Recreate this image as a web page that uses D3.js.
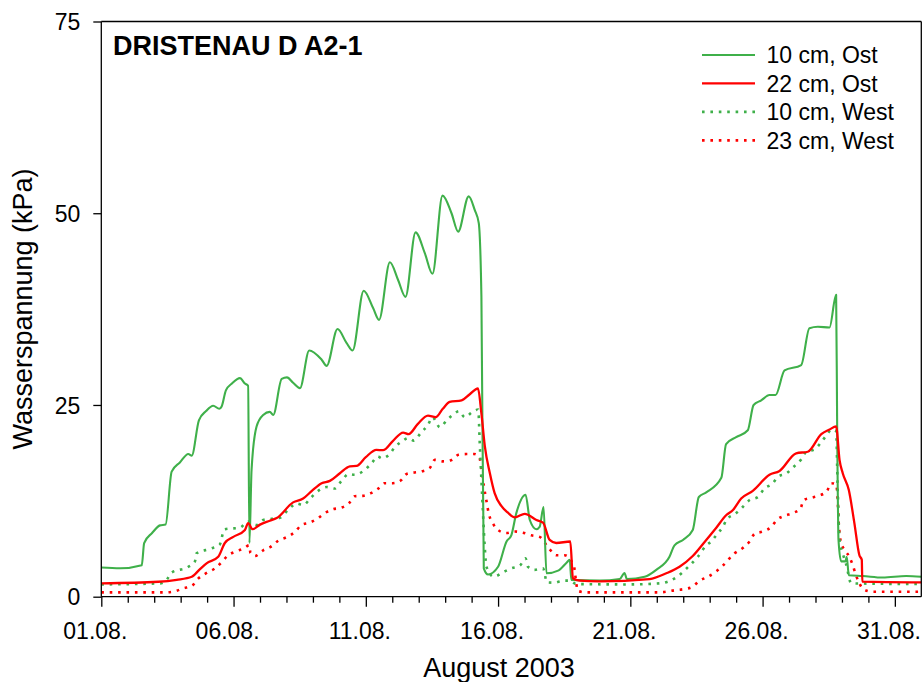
<!DOCTYPE html>
<html><head><meta charset="utf-8">
<script src="https://cdn.jsdelivr.net/npm/d3@7"></script>
<style>
html,body{margin:0;padding:0;background:#fff;}
svg{display:block;font-family:"Liberation Sans",Arial,sans-serif;}
</style></head>
<body>
<svg id="chart" width="922" height="682"></svg>
<script>
// ---- data (day of August 2003, kPa) ----
const chartTitle = "DRISTENAU D A2-1";
const xAxisTitle = "August 2003";
const yAxisTitle = "Wasserspannung (kPa)";
const xTickDays = [1, 6, 11, 16, 21, 26, 31];
const xTickLabels = ["01.08.", "06.08.", "11.08.", "16.08.", "21.08.", "26.08.", "31.08."];
const yTicks = [0, 25, 50, 75];
const seriesNames = ["10 cm, Ost", "22 cm, Ost", "10 cm, West", "23 cm, West"];

const ost10 = [
 [1.00,3.8],[1.71,3.7],[2.53,4.1],[2.62,7.0],[2.92,8.3],[3.22,9.3],[3.43,9.4],[3.66,16.3],[3.97,17.5],[4.29,18.6],[4.42,18.4],
 [4.69,23.0],[4.96,24.2],[5.23,24.9],[5.46,24.5],[5.55,24.8],[5.71,26.9],[5.94,27.8],[6.24,28.5],[6.43,27.8],[6.55,27.5],
 [6.60,7.0],[6.68,16.5],[6.87,22.2],[7.12,23.7],[7.37,24.1],[7.50,23.7],[7.82,28.4],[8.02,28.6],[8.25,27.9],[8.51,27.2],
 [8.86,32.1],[9.33,30.9],[9.52,30.1],[9.93,34.9],[10.27,33.1],[10.50,32.1],[10.92,39.9],[11.28,37.6],[11.50,36.1],
 [11.91,43.6],[12.22,41.3],[12.50,39.1],[12.88,47.5],[13.23,44.8],[13.52,42.1],[13.90,52.3],[14.24,50.0],[14.49,47.6],
 [14.89,52.2],[15.12,50.4],[15.27,48.7],[15.37,39.1],[15.46,3.7],[15.62,2.9],[16.00,3.9],[16.32,7.2],[16.50,8.0],
 [16.69,10.9],[17.04,13.3],[17.20,10.0],[17.45,8.8],[17.57,9.1],[17.72,11.7],[17.83,3.05],[18.27,3.4],[18.58,4.4],
 [18.71,4.8],[18.77,2.2],[19.84,2.1],[20.60,2.3],[20.78,3.1],[20.87,2.3],[21.54,2.6],[21.98,3.5],[22.48,5.2],[22.67,6.7],
 [22.99,7.4],[23.36,8.7],[23.59,13.0],[23.87,13.6],[24.44,15.5],[24.62,19.9],[25.00,20.8],[25.44,21.7],[25.66,25.0],
 [25.95,25.6],[26.26,26.3],[26.49,26.3],[26.83,29.5],[27.46,30.2],[27.77,35.0],[28.09,35.2],[28.53,35.1],[28.78,39.35],
 [28.82,21.7],[28.87,7.4],[28.97,4.6],[29.13,4.6],[29.18,5.2],[29.26,2.8],[29.79,2.7],[30.54,2.5],[31.43,2.7],[32.00,2.6]
];
const ost22 = [
 [1.00,1.75],[3.15,1.95],[3.85,2.2],[4.42,2.6],[4.73,3.6],[4.98,4.35],[5.42,5.2],[5.67,7.0],[5.99,7.8],[6.43,8.7],[6.55,9.6],
 [6.72,8.8],[7.00,9.4],[7.37,9.9],[7.63,10.25],[8.25,12.3],[8.63,12.8],[8.96,13.8],[9.33,14.8],[9.64,15.1],[10.02,16.1],
 [10.40,17.0],[10.65,17.05],[11.00,18.2],[11.40,19.15],[11.65,19.1],[12.02,20.3],[12.41,21.4],[12.62,21.2],[12.96,22.5],
 [13.35,23.6],[13.64,23.4],[13.91,24.5],[14.17,25.4],[14.62,25.6],[14.93,26.4],[15.24,27.15],[15.37,23.9],[15.50,19.6],
 [15.69,16.1],[15.87,13.5],[16.13,11.8],[16.36,11.0],[16.63,10.35],[17.01,10.8],[17.45,10.0],[17.70,9.65],[17.95,7.4],
 [18.20,7.0],[18.73,7.2],[18.83,2.4],[19.08,2.1],[19.84,2.0],[21.73,2.3],[22.36,3.05],[22.86,3.9],[23.36,5.3],[23.87,7.4],
 [24.25,9.0],[24.63,10.65],[24.88,11.3],[25.19,12.8],[25.63,13.8],[26.26,15.9],[26.64,16.4],[27.27,18.7],[27.71,18.9],
 [28.22,21.2],[28.53,21.8],[28.78,22.2],[28.91,17.8],[29.03,16.1],[29.26,13.9],[29.47,9.6],[29.66,5.4],[29.75,4.8],
 [29.77,1.96],[32.00,1.87]
];
const west10 = [
 [1.00,1.6],[3.22,1.74],[3.47,2.2],[3.66,3.15],[4.29,3.9],[4.54,4.6],[4.60,5.65],[5.17,6.3],[5.48,6.8],[5.60,8.3],[5.67,8.8],
 [6.24,9.0],[6.55,9.8],[6.87,9.35],[7.12,10.0],[7.75,10.3],[8.06,11.3],[8.38,12.15],[8.63,11.95],[8.92,12.9],[9.20,13.8],
 [9.52,14.3],[9.83,14.1],[10.08,15.1],[10.36,16.0],[10.58,15.9],[10.89,16.35],[11.22,17.4],[11.46,18.3],[11.59,18.05],
 [11.87,18.5],[12.10,19.5],[12.41,20.35],[12.60,20.7],[12.81,20.35],[13.09,21.4],[13.35,22.4],[13.52,23.4],[13.80,22.1],
 [14.07,23.05],[14.36,23.9],[14.52,24.2],[14.74,23.4],[15.02,24.05],[15.25,24.4],[15.31,19.8],[15.37,15.2],[15.43,10.9],
 [15.50,6.3],[15.56,3.9],[15.84,2.6],[16.19,3.2],[16.50,3.7],[16.82,4.05],[17.04,5.0],[17.13,3.9],[17.38,3.5],[17.70,3.7],
 [17.85,1.87],[18.14,1.83],[18.45,2.1],[18.71,2.1],[18.96,1.65],[20.85,1.6],[22.11,1.74],[22.68,2.4],[23.25,4.1],[23.55,5.2],
 [23.87,6.7],[24.06,7.2],[24.31,8.3],[24.50,9.1],[24.63,10.0],[25.00,10.9],[25.25,11.7],[25.51,12.6],[25.82,13.0],
 [26.07,14.1],[26.39,14.8],[26.58,15.65],[26.89,16.05],[27.21,17.05],[27.46,17.9],[27.65,18.9],[27.96,19.2],[28.25,20.3],
 [28.47,21.3],[28.59,21.8],[28.78,21.6],[28.84,13.9],[28.91,7.4],[29.03,5.65],[29.16,4.2],[29.35,1.74],[32.00,1.65]
];
const west23 = [
 [1.00,0.57],[3.47,0.57],[3.78,0.7],[4.10,1.1],[4.42,1.4],[4.66,2.35],[4.98,3.1],[5.30,3.7],[5.55,4.5],[5.76,5.3],[6.09,5.9],
 [6.39,6.3],[6.59,6.7],[6.64,5.7],[6.81,5.3],[7.12,6.05],[7.40,6.5],[7.71,7.35],[8.00,7.75],[8.32,8.45],[8.57,9.35],
 [8.87,9.65],[9.16,10.15],[9.45,10.9],[9.75,11.4],[10.07,11.6],[10.37,12.2],[10.58,13.1],[10.89,13.15],[11.19,13.5],
 [11.45,14.05],[11.71,14.8],[12.02,14.8],[12.32,15.15],[12.54,16.0],[12.84,16.2],[13.13,16.35],[13.42,16.8],[13.61,17.85],
 [13.92,17.65],[14.22,17.8],[14.50,18.5],[14.80,18.6],[15.09,18.6],[15.28,18.25],[15.37,16.8],[15.46,14.5],[15.56,12.5],
 [15.65,10.8],[15.79,9.65],[16.04,8.6],[16.32,8.3],[16.63,8.5],[16.94,8.35],[17.26,8.0],[17.57,7.8],[17.92,6.3],[18.20,5.4],
 [18.52,5.4],[18.87,4.0],[18.91,3.0],[19.02,0.74],[19.34,0.57],[22.11,0.57],[22.74,0.87],[23.05,1.0],[23.35,1.3],[23.62,2.08],
 [23.93,2.6],[24.25,3.3],[24.51,4.1],[24.94,5.65],[25.25,6.35],[25.51,7.2],[25.70,8.2],[26.01,8.5],[26.33,9.1],[26.55,10.05],
 [26.83,10.55],[27.14,10.9],[27.44,11.55],[27.55,12.6],[27.85,12.9],[28.15,13.2],[28.43,13.75],[28.59,14.8],[28.78,14.65],
 [28.84,12.6],[28.88,9.6],[28.97,7.0],[29.10,6.1],[29.28,5.2],[29.41,4.1],[29.53,2.8],[29.66,1.74],[29.81,0.96],[30.14,0.65],
 [32.00,0.65]
];

// ---- styling ----
const GREEN = "#3fb04a", RED = "#ff0000";
const seriesData = [ost10, ost22, west10, west23];
const seriesStyle = [
  {color: GREEN, width: 2.1, dash: null},
  {color: RED, width: 2.3, dash: null},
  {color: GREEN, width: 2.6, dash: "2.6 5.8"},
  {color: RED, width: 2.6, dash: "2.6 5.8"}
];

const svg = d3.select("#chart");
const L = 101.3, R = 921.3, T = 21.5, B = 596.7;
const x = d3.scaleLinear().domain([1, 32]).range([L, R]);
const y = d3.scaleLinear().domain([0, 75]).range([B, T]);

svg.append("defs").append("clipPath").attr("id", "clip")
  .append("rect").attr("x", L).attr("y", T - 2).attr("width", R - L).attr("height", B - T + 2);

const line = d3.line().x(d => x(d[0])).y(d => y(d[1])).curve(d3.curveMonotoneX);
const plot = svg.append("g").attr("clip-path", "url(#clip)");
[3, 2, 0, 1].forEach(i => {
  const st = seriesStyle[i];
  plot.append("path").datum(seriesData[i])
    .attr("d", line).attr("fill", "none")
    .attr("stroke", st.color).attr("stroke-width", st.width)
    .attr("stroke-dasharray", st.dash)
    .attr("stroke-linejoin", "round");
});

// frame top/right
svg.append("line").attr("x1", L).attr("x2", R).attr("y1", T).attr("y2", T).attr("stroke", "#000").attr("stroke-width", 1.3);
svg.append("line").attr("x1", R).attr("x2", R).attr("y1", T).attr("y2", B).attr("stroke", "#000").attr("stroke-width", 1.3);

// x axis
const minorDays = d3.range(1, 32);
const xMinor = svg.append("g").attr("transform", `translate(0,${B})`)
  .call(d3.axisBottom(x).tickValues(minorDays.filter(d => !xTickDays.includes(d))).tickSize(6).tickFormat(""));
const xMajor = svg.append("g").attr("transform", `translate(0,${B})`)
  .call(d3.axisBottom(x).tickValues(xTickDays).tickSize(10).tickFormat((d, i) => xTickLabels[i]));
[xMinor, xMajor].forEach(g => {
  g.select(".domain").remove();
  g.selectAll(".tick line").attr("stroke", "#000").attr("stroke-width", 1.3);
});
xMajor.selectAll(".tick text").attr("y", 42.3).attr("dy", 0).attr("dx", -6.5)
  .attr("font-size", 23).attr("fill", "#000").attr("font-family", "Liberation Sans, Arial, sans-serif");
svg.append("line").attr("x1", L).attr("x2", R).attr("y1", B).attr("y2", B).attr("stroke", "#000").attr("stroke-width", 1.3);

// y axis
const yAx = svg.append("g").attr("transform", `translate(${L},0)`)
  .call(d3.axisLeft(y).tickValues(yTicks).tickSize(8).tickPadding(13));
yAx.select(".domain").remove();
yAx.selectAll(".tick line").attr("stroke", "#000").attr("stroke-width", 1.3);
yAx.selectAll(".tick text").attr("font-size", 23).attr("dy", "0.36em").attr("fill", "#000")
  .attr("font-family", "Liberation Sans, Arial, sans-serif");
svg.append("line").attr("x1", L).attr("x2", L).attr("y1", T).attr("y2", B).attr("stroke", "#000").attr("stroke-width", 1.3);

// axis titles
svg.append("text").attr("x", 499).attr("y", 677).attr("text-anchor", "middle")
  .attr("font-size", 27).text(xAxisTitle);
svg.append("text").attr("transform", "translate(31.5,309) rotate(-90)").attr("text-anchor", "middle")
  .attr("font-size", 27).text(yAxisTitle);

// chart title
svg.append("text").attr("x", 113).attr("y", 55).attr("font-size", 27).attr("font-weight", "bold").text(chartTitle);

// legend
const leg = svg.append("g");
const legY0 = 55, legDy = 28.45;
seriesNames.forEach((name, i) => {
  const st = seriesStyle[i];
  const yy = legY0 + i * legDy;
  leg.append("line").attr("x1", 702).attr("x2", 755).attr("y1", yy).attr("y2", yy)
    .attr("stroke", st.color).attr("stroke-width", st.width).attr("stroke-dasharray", st.dash);
  leg.append("text").attr("x", 766.5).attr("y", yy + 8.3).attr("font-size", 23).text(name);
});
</script>
</body></html>
